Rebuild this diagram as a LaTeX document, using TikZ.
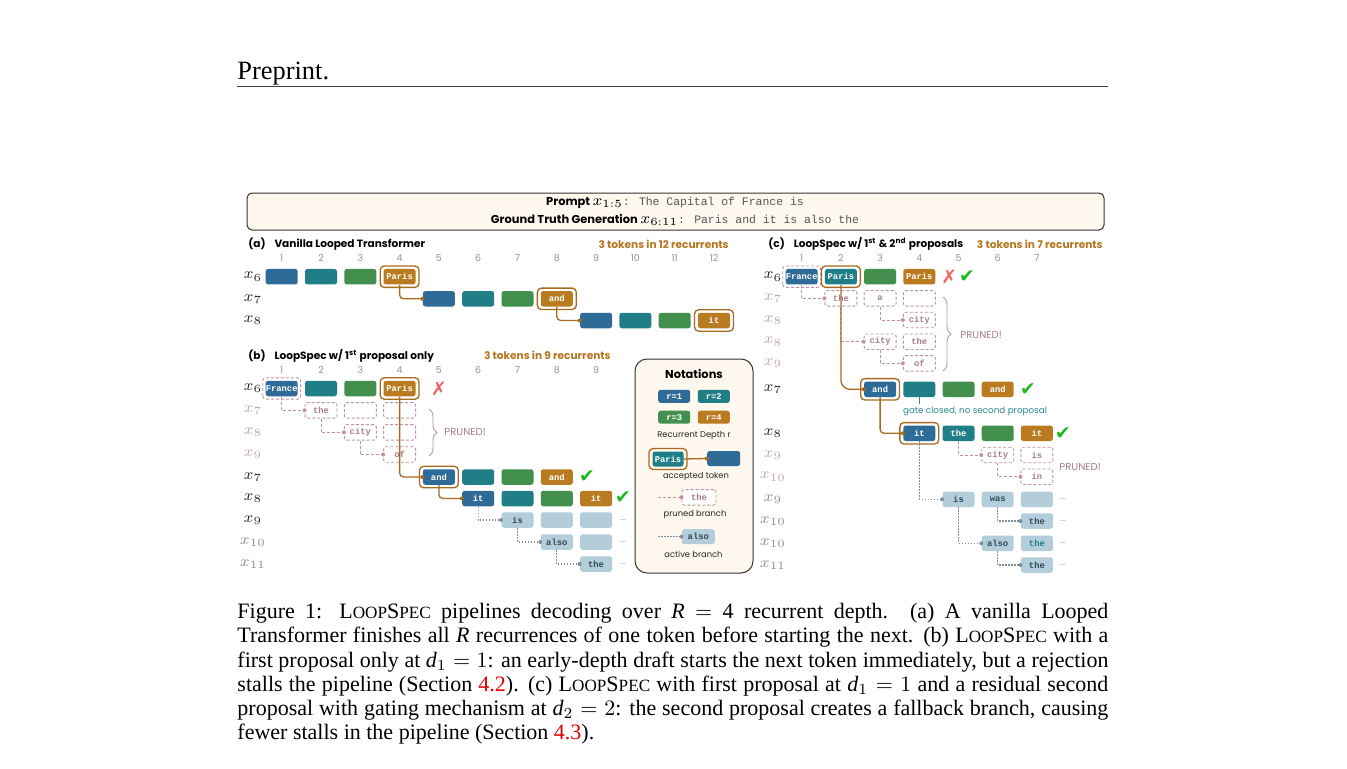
\documentclass[tikz,border=0pt]{standalone}
\usepackage{fontspec}
\setmainfont{Liberation Serif}
\newfontfamily\comic{Poppins}
\newfontfamily\mono{Liberation Mono}
\newfontfamily\sym{DejaVu Sans}
\usetikzlibrary{decorations.pathreplacing,calc}
\newlength\pxu \setlength\pxu{0.4545pt}
\definecolor{c1}{HTML}{2F6B97}
\definecolor{c2}{HTML}{1F7E86}
\definecolor{c3}{HTML}{438F4E}
\definecolor{c4}{HTML}{B97A20}
\definecolor{accc}{HTML}{A86B1E}
\definecolor{prnc}{HTML}{BE94A4}
\definecolor{prnt}{HTML}{A97F90}
\definecolor{prnlab}{HTML}{C4A8B4}
\definecolor{actf}{HTML}{B3CDDA}
\definecolor{actt}{HTML}{2C4A5C}
\definecolor{actl}{HTML}{7C8F9A}
\definecolor{shadec}{HTML}{EFF3F4}
\definecolor{guidec}{HTML}{D9DEE1}
\definecolor{titbrown}{HTML}{B5761F}
\definecolor{okgreen}{HTML}{1DB81D}
\definecolor{nored}{HTML}{F06060}
\definecolor{cream}{HTML}{FFF8EE}
\definecolor{gatec}{HTML}{2E8A92}
\definecolor{numc}{HTML}{8A969C}
\definecolor{labdark}{HTML}{2A2A2A}
\definecolor{labgray}{HTML}{8A9095}
\definecolor{boxc}{HTML}{333333}
\definecolor{refred}{HTML}{E00000}
\definecolor{pgray}{HTML}{555555}
\newcommand\tokfont{\mono\bfseries\fontsize{4}{4.5}\selectfont}
\newcommand\titfont{\comic\bfseries\fontsize{4.8}{6}\selectfont}
\newcommand\numfont{\comic\fontsize{4.3}{5}\selectfont}
\newcommand\labfont{\fontsize{7}{8}\selectfont}
\newcommand\smfont{\comic\fontsize{3.8}{4.5}\selectfont}
\newcommand\symfont{\sym\fontsize{8.5}{9}\selectfont}
\newcommand\LSname{L{\fontsize{7.8}{9}\selectfont OOP}S{\fontsize{7.8}{9}\selectfont PEC}}
\pgfdeclarelayer{bg}
\pgfsetlayers{bg,main}
\tikzset{
  tok/.style={rounded corners=2.5\pxu, minimum width=32\pxu, minimum height=15.5\pxu, inner sep=0pt, font=\tokfont, text=white},
  r1/.style={tok, fill=c1}, r2/.style={tok, fill=c2}, r3/.style={tok, fill=c3}, r4/.style={tok, fill=c4},
  prn/.style={tok, fill=white, draw=prnc, line width=0.9\pxu, dash pattern=on 3\pxu off 2\pxu, text=prnt},
  act/.style={tok, fill=actf, text=actt},
  accb/.style={draw=accc, line width=1.3\pxu, rounded corners=4\pxu},
  brl/.style={draw=accc, line width=1.3\pxu, rounded corners=4\pxu},
  prl/.style={draw=prnc, line width=0.9\pxu, dash pattern=on 3\pxu off 2\pxu},
  acl/.style={draw=actl, line width=1.1\pxu, dash pattern=on 1.5\pxu off 1.5\pxu},
  guide/.style={draw=guidec, line width=0.7\pxu, dash pattern=on 0.8\pxu off 2.2\pxu},
  shadecol/.style={fill=shadec},
  lab/.style={font=\labfont, text=labdark, inner sep=0pt},
  labp/.style={lab, text=prnlab},
  labg/.style={lab, text=labgray},
  colnum/.style={font=\numfont, text=numc, inner sep=0pt},
  ttl/.style={font=\titfont, text=black, inner sep=0pt},
  cnt/.style={font=\titfont, text=titbrown, inner sep=0pt},
  ok/.style={font=\symfont, text=okgreen, inner sep=0pt},
  no/.style={font=\symfont, text=nored, inner sep=0pt},
  more/.style={font=\numfont, text=numc!80, inner sep=0pt},
  prtxt/.style={font=\comic\fontsize{4.6}{5}\selectfont, text=prnt, inner sep=0pt},
  note/.style={font=\smfont, text=black!85, inner sep=0pt},
}
\newcommand\accbox[1]{\draw[accb] ($(#1.south west)+(-3,2.5)$) rectangle ($(#1.north east)+(3,-2.5)$);}
\newcommand\prnbox[1]{\draw[prl, rounded corners=3\pxu] ($(#1.south west)+(-2.5,2.5)$) rectangle ($(#1.north east)+(2.5,-2.5)$);}
\newcommand\conn[4]{\draw[#1] (#2) |- (#3); \fill[#4] (#3) circle[radius=2\pxu];}
\begin{document}
\begin{tikzpicture}[x=\pxu,y=-\pxu]
\useasboundingbox[fill=white] (0,0) rectangle (1347,768);

% ---------- header ----------
\node[anchor=base west, inner sep=0pt, font=\fontsize{12}{14}\selectfont] (hdr) at (237,80) {Preprint.};
\coordinate (rl) at (237,86.5); \coordinate (rr) at (1108,86.5);
\draw[line width=0.5pt, black!75] (rl) -- (rr);

% ---------- prompt box ----------
\node[draw=boxc, line width=1\pxu, fill=cream, rounded corners=5\pxu, minimum width=857\pxu, minimum height=37\pxu, inner sep=0pt] (pbox) at (675.5,211.5) {};
\node[inner sep=0pt] (p1) at (675,203) {\comic\bfseries\fontsize{5.2}{6}\selectfont Prompt {\fontsize{7}{7}\selectfont$x_{1:5}$}\mono\mdseries\fontsize{5.2}{6}\selectfont\textcolor{pgray}{: The Capital of France is}};
\node[inner sep=0pt] (p2) at (675,220) {\comic\bfseries\fontsize{5.2}{6}\selectfont Ground Truth Generation {\fontsize{7}{7}\selectfont$x_{6:11}$}\mono\mdseries\fontsize{5.2}{6}\selectfont\textcolor{pgray}{: Paris and it is also the}};

% ---------- background shading ----------
\begin{pgfonlayer}{bg}
\foreach \c in {321.0,399.6,478.2,556.8,635.4,714.0} \fill[shadecol] (\c-19.65,262) rectangle (\c+19.65,332);
\foreach \c in {321.0,399.6,478.2,556.8} \fill[shadecol] (\c-19.65,373) rectangle (\c+19.65,575);
\foreach \c in {840.9,919.3,997.7} \fill[shadecol] (\c-19.6,262) rectangle (\c+19.6,576);
\end{pgfonlayer}

% ================= panel (a) =================
\node[ttl, anchor=west] (ta) at (248,244) {(a)\hspace{3pt} Vanilla Looped Transformer};
\node[cnt, anchor=east] (ca) at (729,244) {3 tokens in 12 recurrents};
\foreach \i in {1,...,12} \node[colnum] at ({281.7+39.3*(\i-1)},258) {\i};
\node[lab] (la6) at (253,276.7) {$x_{6}$};
\node[lab] (la7) at (253,298.8) {$x_{7}$};
\node[lab] (la8) at (253,320.5) {$x_{8}$};
\node[r1] (a11) at (281.7,276.7) {};
\node[r2] (a12) at (321.0,276.7) {};
\node[r3] (a13) at (360.3,276.7) {};
\node[r4] (aP)  at (399.6,276.7) {Paris};
\node[r1] (a25) at (438.9,298.8) {};
\node[r2] (a26) at (478.2,298.8) {};
\node[r3] (a27) at (517.5,298.8) {};
\node[r4] (aA)  at (556.8,298.8) {and};
\node[r1] (a39) at (596.1,320.5) {};
\node[r2] (a310) at (635.4,320.5) {};
\node[r3] (a311) at (674.7,320.5) {};
\node[r4] (aI)  at (714.0,320.5) {it};
\accbox{aP} \accbox{aA} \accbox{aI}
\begin{pgfonlayer}{bg}
\draw[guide] (263,298.8) -- (a25.west);
\draw[guide] (263,320.5) -- (a39.west);
\end{pgfonlayer}
\conn{brl}{aP.south}{a25.west}{accc}
\conn{brl}{aA.south}{a39.west}{accc}

% ================= panel (b) =================
\node[ttl, anchor=west] (tb) at (248,356) {(b)\hspace{3pt} LoopSpec w/ 1\textsuperscript{st} proposal only};
\node[cnt, anchor=east] (cb) at (611,355) {3 tokens in 9 recurrents};
\foreach \i in {1,...,9} \node[colnum] at ({281.7+39.3*(\i-1)},370) {\i};
\node[lab]  (lb0) at (253,388.5) {$x_{6}$};
\node[labp] (lb1) at (253,410.3) {$x_{7}$};
\node[labp] (lb2) at (253,432.3) {$x_{8}$};
\node[labp] (lb3) at (253,454.5) {$x_{9}$};
\node[lab]  (lb4) at (253,477.0) {$x_{7}$};
\node[lab]  (lb5) at (253,498.5) {$x_{8}$};
\node[lab]  (lb6) at (253,520.0) {$x_{9}$};
\node[labg] (lb7) at (253,542.0) {$x_{10}$};
\node[labg] (lb8) at (253,564.0) {$x_{11}$};
\node[r1] (bF) at (281.7,388.5) {France};
\node[r2] (b02) at (321.0,388.5) {};
\node[r3] (b03) at (360.3,388.5) {};
\node[r4] (bP) at (399.6,388.5) {Paris};
\node[no] (bx) at (438.9,388.5) {✗};
\node[prn] (bthe) at (321.0,410.3) {the};
\node[prn] (b13) at (360.3,410.3) {};
\node[prn] (b14) at (399.6,410.3) {};
\node[prn] (bcity) at (360.3,432.3) {city};
\node[prn] (b24) at (399.6,432.3) {};
\node[prn] (bof) at (399.6,454.5) {of};
\draw[decorate, decoration={brace, amplitude=8\pxu}, prnc, line width=0.9\pxu] (429,409) -- (429,456);
\node[prtxt, anchor=west] (bpr) at (444,432.3) {PRUNED!};
\node[r1] (bA) at (438.9,477.0) {and};
\node[r2] (b46) at (478.2,477.0) {};
\node[r3] (b47) at (517.5,477.0) {};
\node[r4] (b48) at (556.8,477.0) {and};
\node[ok] (bok1) at (587,477.0) {✔};
\node[r1] (bI) at (478.2,498.5) {it};
\node[r2] (b57) at (517.5,498.5) {};
\node[r3] (b58) at (556.8,498.5) {};
\node[r4] (b59) at (596.1,498.5) {it};
\node[ok] (bok2) at (623,498.0) {✔};
\node[act] (bis) at (517.5,520.0) {is};
\node[act] (b68) at (556.8,520.0) {};
\node[act] (b69) at (596.1,520.0) {};
\node[act] (balso) at (556.8,542.0) {also};
\node[act] (b79) at (596.1,542.0) {};
\node[act] (bthe2) at (596.1,564.0) {the};
\node[more] (bm1) at (623,520) {...};
\node[more] (bm2) at (623,542) {...};
\node[more] (bm3) at (623,564) {...};
\prnbox{bF}
\accbox{bP} \accbox{bA}
\begin{pgfonlayer}{bg}
\draw[guide] (263,410.3) -- (bthe.west);
\draw[guide] (263,432.3) -- (bcity.west);
\draw[guide] (263,454.5) -- (bof.west);
\draw[guide] (262,477.0) -- (b13.east);
\draw[guide] (263,498.5) -- (bI.west);
\draw[guide] (263,520.0) -- (bis.west);
\draw[guide] (263,542.0) -- (balso.west);
\draw[guide] (263,564.0) -- (bthe2.west);
\end{pgfonlayer}
\conn{prl}{bF.south}{bthe.west}{prnc}
\conn{prl}{bthe.south}{bcity.west}{prnc}
\conn{prl}{bcity.south}{bof.west}{prnc}
\conn{brl}{bP.south}{bA.west}{accc}
\conn{brl}{bA.south}{bI.west}{accc}
\conn{acl}{bI.south}{bis.west}{actl}
\conn{acl}{bis.south}{balso.west}{actl}
\conn{acl}{balso.south}{bthe2.west}{actl}

% ================= notations =================
\node[draw=boxc, line width=1\pxu, fill=cream, rounded corners=12\pxu, minimum width=118\pxu, minimum height=214\pxu, inner sep=0pt] (nbox) at (694,466) {};
\node[font=\comic\bfseries\fontsize{5.2}{6}\selectfont, inner sep=0pt] (nt) at (694,373.5) {Notations};
\node[r1, minimum height=13\pxu] (nr1) at (674.2,396.3) {r=1};
\node[r2, minimum height=13\pxu] (nr2) at (713.8,396.3) {r=2};
\node[r3, minimum height=13\pxu] (nr3) at (674.2,417.2) {r=3};
\node[r4, minimum height=13\pxu] (nr4) at (713.8,417.2) {r=4};
\node[note] (nl1) at (694,435) {Recurrent Depth r};
\node[r2, minimum width=31\pxu, minimum height=15\pxu] (nP) at (668,459) {Paris};
\node[r1, minimum width=33\pxu, minimum height=15\pxu] (nB) at (723.7,458.5) {};
\accbox{nP}
\draw[brl] (nP.east) -- (nB.west); \fill[accc] (nB.west) circle[radius=2\pxu];
\node[note] (nl2) at (696,476) {accepted token};
\coordinate (np0) at (658.3,497.3);
\node[prn, minimum width=34\pxu] (nthe) at (699,497.3) {the};
\draw[prl] (np0) -- (nthe.west); \fill[prnc] (nthe.west) circle[radius=2\pxu];
\node[note] (nl3) at (695,514.3) {pruned branch};
\coordinate (na0) at (658.3,536.7);
\node[act, minimum width=33\pxu, minimum height=15\pxu] (nalso) at (698.3,536.7) {also};
\draw[acl] (na0) -- (nalso.west); \fill[actl] (nalso.west) circle[radius=2\pxu];
\node[note] (nl4) at (693.5,554.3) {active branch};

% ================= panel (c) =================
\node[ttl, anchor=west] (tc) at (768,244) {(c)\hspace{3pt} LoopSpec w/ 1\textsuperscript{st} \& 2\textsuperscript{nd} proposals};
\node[cnt, anchor=east] (cc) at (1103,244) {3 tokens in 7 recurrents};
\foreach \i in {1,...,7} \node[colnum] at ({801.7+39.2*(\i-1)},257.7) {\i};
\node[lab]  (lc0) at (773,276.7) {$x_{6}$};
\node[labp] (lc1) at (773,298.3) {$x_{7}$};
\node[labp] (lc2) at (773,320.0) {$x_{8}$};
\node[labp] (lc3) at (773,341.7) {$x_{8}$};
\node[labp] (lc4) at (773,363.3) {$x_{9}$};
\node[lab]  (lc5) at (773,389.3) {$x_{7}$};
\node[lab]  (lc7) at (773,433.3) {$x_{8}$};
\node[labp] (lc8) at (773,455.0) {$x_{9}$};
\node[labp] (lc9) at (773,476.7) {$x_{10}$};
\node[labg] (lc10) at (773,499.3) {$x_{9}$};
\node[labg] (lc11) at (773,521.0) {$x_{10}$};
\node[labg] (lc12) at (773,543.3) {$x_{10}$};
\node[labg] (lc13) at (773,565.0) {$x_{11}$};
\node[r1] (cF) at (801.7,276.7) {France};
\node[r2] (cP) at (840.9,276.7) {Paris};
\node[r3] (c03) at (880.1,276.7) {};
\node[r4] (c04) at (919.3,276.7) {Paris};
\node[no] (cx) at (949.3,276.7) {✗};
\node[ok] (cok0) at (967,276.7) {✔};
\node[prn] (cthe) at (840.9,298.3) {the};
\node[prn] (ca) at (880.1,298.3) {a};
\node[prn] (c14) at (919.3,298.3) {};
\node[prn] (ccity1) at (919.3,320.0) {city};
\node[prn] (ccity2) at (880.1,341.7) {city};
\node[prn] (cthe2) at (919.3,341.7) {the};
\node[prn] (cof) at (919.3,363.3) {of};
\draw[decorate, decoration={brace, amplitude=8\pxu}, prnc, line width=0.9\pxu] (943,297) -- (943,371);
\node[prtxt, anchor=west] (cpr) at (960,334.5) {PRUNED!};
\node[r1] (cA) at (880.1,389.3) {and};
\node[r2] (cT) at (919.3,389.3) {};
\node[r3] (c56) at (958.5,389.3) {};
\node[r4] (c57) at (997.7,389.3) {and};
\node[ok] (cok1) at (1028,389.3) {✔};
\coordinate (cTs) at ($(cT.south)+(0,7)$);
\draw[gatec, line width=1.2\pxu] (cT.south) -- (cTs);
\node[font=\comic\fontsize{4}{5}\selectfont, text=gatec, inner sep=0pt] (gate) at (975,411) {gate closed, no second proposal};
\node[r1] (cI) at (919.3,433.3) {it};
\node[r2] (cthe3) at (958.5,433.3) {the};
\node[r3] (c76) at (997.7,433.3) {};
\node[r4] (c77) at (1036.9,433.3) {it};
\node[ok] (cok2) at (1063,433.3) {✔};
\node[prn] (ccity3) at (997.7,455.0) {city};
\node[prn] (cis) at (1036.9,455.0) {is};
\node[prn] (cin) at (1036.9,476.7) {in};
\node[prtxt, anchor=west] (cpr2) at (1059,466.7) {PRUNED!};
\node[act] (cis2) at (958.5,499.3) {is};
\node[act] (cwas) at (997.7,499.3) {was};
\node[act] (c107) at (1036.9,499.3) {};
\node[act] (cthe4) at (1036.9,521.0) {the};
\node[act] (calso) at (997.7,543.3) {also};
\node[act, text=c2] (cthe5) at (1036.9,543.3) {the};
\node[act] (cthe6) at (1036.9,565.0) {the};
\node[more] (cm1) at (1063,499.3) {...};
\node[more] (cm2) at (1063,521.0) {...};
\node[more] (cm3) at (1063,543.3) {...};
\node[more] (cm4) at (1063,565.0) {...};
\prnbox{cF}
\accbox{cP} \accbox{cA} \accbox{cI}
\begin{pgfonlayer}{bg}
\draw[guide] (783,298.3) -- (cthe.west);
\draw[guide] (783,320.0) -- (ccity1.west);
\draw[guide] (783,341.7) -- (ccity2.west);
\draw[guide] (783,363.3) -- (cof.west);
\draw[guide] (783,389.3) -- (cA.west);
\draw[guide] (783,433.3) -- (cI.west);
\draw[guide] (783,455.0) -- (ccity3.west);
\draw[guide] (783,476.7) -- (cin.west);
\draw[guide] (783,499.3) -- (cis2.west);
\draw[guide] (783,521.0) -- (cthe4.west);
\draw[guide] (783,543.3) -- (calso.west);
\draw[guide] (783,565.0) -- (cthe6.west);
\end{pgfonlayer}
\conn{prl}{cF.south}{cthe.west}{prnc}
\conn{prl}{ca.south}{ccity1.west}{prnc}
\conn{prl}{cthe.south}{ccity2.west}{prnc}
\conn{prl}{ccity2.south}{cof.west}{prnc}
\conn{prl}{cthe3.south}{ccity3.west}{prnc}
\conn{prl}{ccity3.south}{cin.west}{prnc}
\conn{brl, rounded corners=9\pxu}{cP.south}{cA.west}{accc}
\conn{brl}{cA.south}{cI.west}{accc}
\conn{acl}{cI.south}{cis2.west}{actl}
\conn{acl}{cwas.south}{cthe4.west}{actl}
\conn{acl}{cis2.south}{calso.west}{actl}
\conn{acl}{calso.south}{cthe6.west}{actl}

% ================= caption =================
\node[anchor=north west, inner sep=0pt, text width=871\pxu, align=justify, font=\fontsize{10}{11}\selectfont] (cap) at (237,603) {Figure 1: \LSname{} pipelines decoding over \textit{R} $=$ 4 recurrent depth. (a) A vanilla Looped\linebreak Transformer finishes all \textit{R} recurrences of one token before starting the next. (b) \LSname{} with a\linebreak first proposal only at $\mathit{d}_1=1$: an early-depth draft starts the next token immediately, but a rejection\linebreak stalls the pipeline (Section \textcolor{refred}{4.2}). (c) \LSname{} with first proposal at $\mathit{d}_1=1$ and a residual second\linebreak proposal with gating mechanism at $\mathit{d}_2=2$: the second proposal creates a fallback branch, causing\linebreak fewer stalls in the pipeline (Section \textcolor{refred}{4.3}).};
\end{tikzpicture}
\end{document}
